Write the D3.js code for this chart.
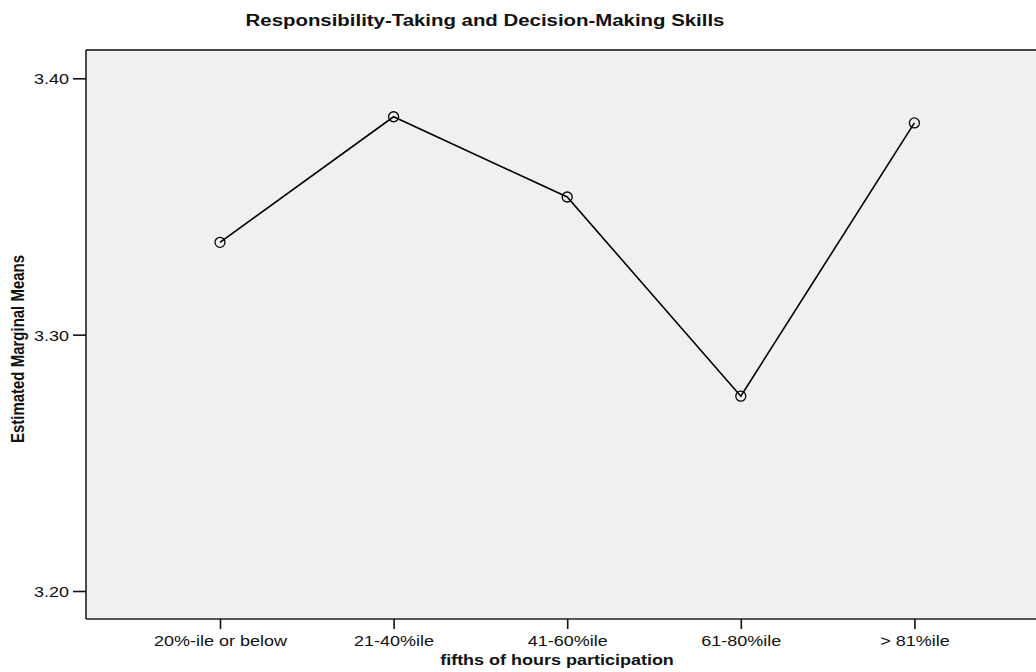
<!DOCTYPE html>
<html>
<head>
<meta charset="utf-8">
<script src="https://cdn.jsdelivr.net/npm/d3@7"></script>
<style>
  html, body { margin: 0; padding: 0; background: #fff; overflow: hidden; }
  svg { display: block; font-family: "Liberation Sans", Arial, sans-serif; }
</style>
</head>
<body>
<svg id="chart" width="1036" height="672"></svg>
<script>
// Estimated marginal means by participation fifth
const categories = ["20%-ile or below", "21-40%ile", "41-60%ile", "61-80%ile", "> 81%ile"];
const means = [3.336, 3.385, 3.3537, 3.276, 3.3826];
const yTicks = [3.20, 3.30, 3.40];

// glyphs are drawn slightly wide
const SX = 1.2;

const svg = d3.select("#chart");
const plot = { left: 86, top: 50, right: 1036, bottom: 619 };

const x = d3.scalePoint()
  .domain(categories)
  .range([220, 914.4]);

const y = d3.scaleLinear()
  .domain([3.20, 3.40])
  .range([591, 78.3]);

// plot background
svg.append("rect")
  .attr("x", plot.left).attr("y", plot.top)
  .attr("width", plot.right - plot.left).attr("height", plot.bottom - plot.top)
  .attr("fill", "#f0f0f0");

// frame: top and bottom edges
svg.append("line")
  .attr("x1", plot.left).attr("x2", plot.right)
  .attr("y1", plot.top).attr("y2", plot.top)
  .attr("stroke", "#444").attr("stroke-width", 2);
svg.append("line")
  .attr("x1", plot.left).attr("x2", plot.right)
  .attr("y1", plot.bottom).attr("y2", plot.bottom)
  .attr("stroke", "#222").attr("stroke-width", 1.3);

// y axis
const yAxis = d3.axisLeft(y).tickValues(yTicks).tickFormat(d3.format(".2f")).tickSize(13);
const yg = svg.append("g").attr("transform", `translate(${plot.left},0)`).call(yAxis);
yg.select(".domain").remove();
yg.append("line")
  .attr("x1", 0).attr("x2", 0).attr("y1", plot.top).attr("y2", plot.bottom)
  .attr("stroke", "#111").attr("stroke-width", 1.5);
yg.selectAll(".tick line").attr("stroke", "#111").attr("stroke-width", 1.6);
yg.selectAll(".tick text")
  .attr("fill", "#111")
  .style("font-size", "15px")
  .attr("x", -17 / SX)
  .attr("dy", "0.36em")
  .attr("transform", `scale(${SX},1)`);

// x axis
const xAxis = d3.axisBottom(x).tickSize(10);
const xg = svg.append("g").attr("transform", `translate(0,${plot.bottom})`).call(xAxis);
xg.select(".domain").remove();
xg.selectAll(".tick line").attr("stroke", "#111").attr("stroke-width", 1.6);
xg.selectAll(".tick text")
  .attr("fill", "#111")
  .style("font-size", "15px")
  .attr("y", 27)
  .attr("dy", null)
  .attr("transform", `scale(${SX},1)`);

// line and markers
const line = d3.line()
  .x((d, i) => x(categories[i]))
  .y(d => y(d));

svg.append("path")
  .datum(means)
  .attr("d", line)
  .attr("fill", "none")
  .attr("stroke", "#000")
  .attr("stroke-width", 1.6);

svg.selectAll("circle.pt")
  .data(means)
  .join("circle")
  .attr("class", "pt")
  .attr("cx", (d, i) => x(categories[i]))
  .attr("cy", d => y(d))
  .attr("r", 5)
  .attr("fill", "none")
  .attr("stroke", "#000")
  .attr("stroke-width", 1.3);

// titles
svg.append("text")
  .attr("transform", `translate(485,25.5) scale(${SX},1)`)
  .attr("text-anchor", "middle")
  .style("font-size", "17px").style("font-weight", "bold")
  .attr("fill", "#111")
  .text("Responsibility-Taking and Decision-Making Skills");

svg.append("text")
  .attr("transform", `translate(557,665) scale(${SX},1)`)
  .attr("text-anchor", "middle")
  .style("font-size", "15px").style("font-weight", "bold")
  .attr("fill", "#111")
  .text("fifths of hours participation");

svg.append("text")
  .attr("transform", `translate(24,349) rotate(-90) scale(1,${SX})`)
  .attr("text-anchor", "middle")
  .style("font-size", "15px").style("font-weight", "bold")
  .attr("fill", "#111")
  .text("Estimated Marginal Means");
</script>
</body>
</html>
